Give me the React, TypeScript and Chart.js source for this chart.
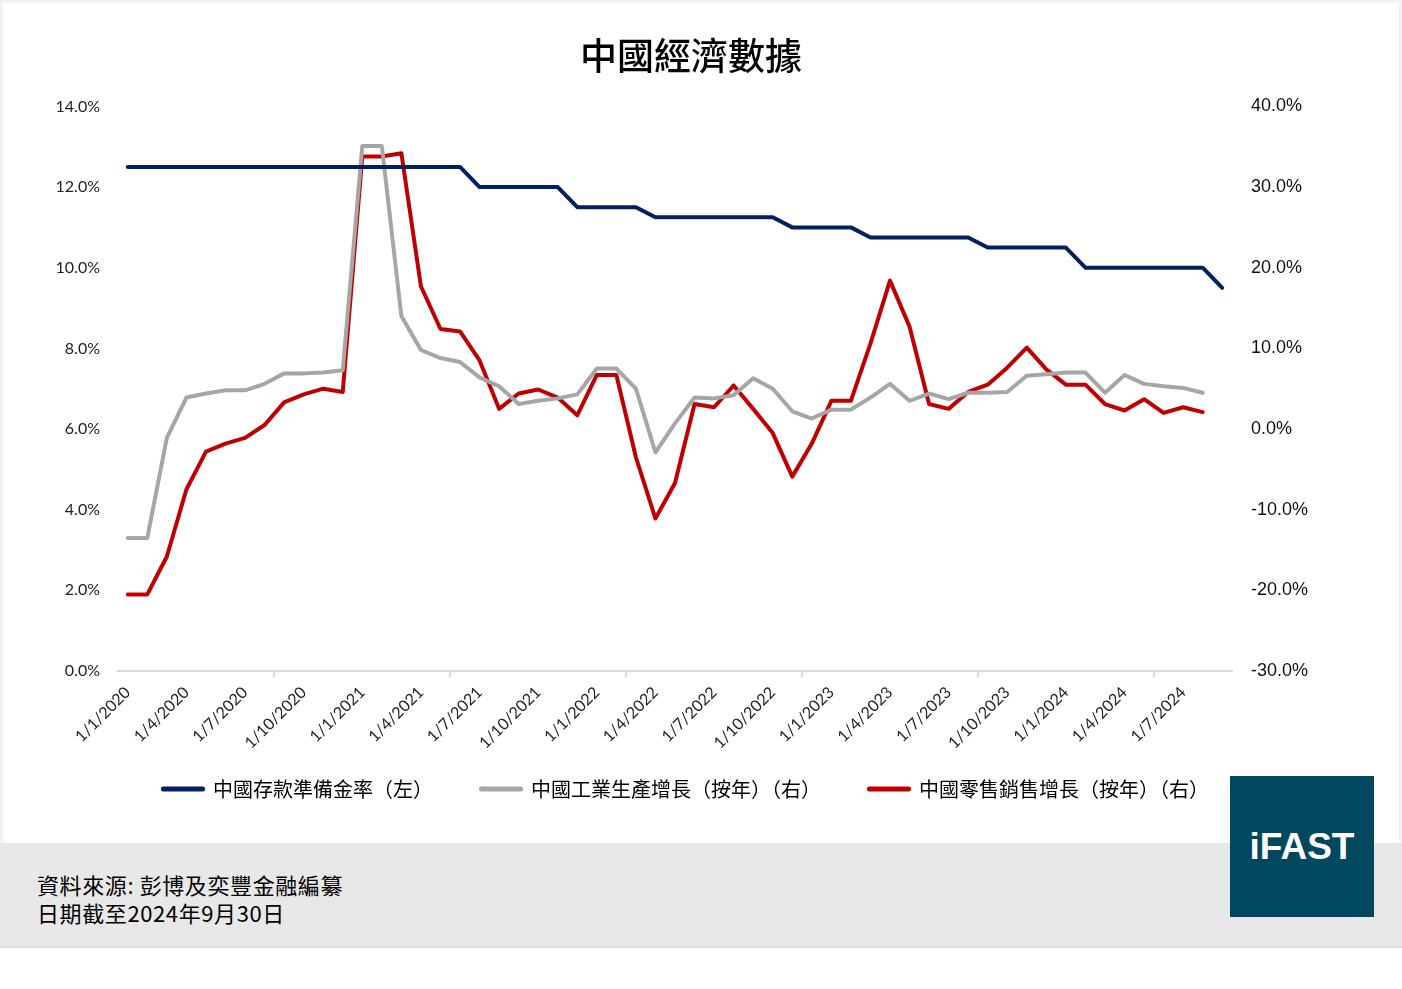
import { useEffect, useRef } from "react";
import Chart from "chart.js/auto";

const months: string[] = [
  "1/1/2020", "1/2/2020", "1/3/2020", "1/4/2020", "1/5/2020", "1/6/2020",
  "1/7/2020", "1/8/2020", "1/9/2020", "1/10/2020", "1/11/2020", "1/12/2020",
  "1/1/2021", "1/2/2021", "1/3/2021", "1/4/2021", "1/5/2021", "1/6/2021",
  "1/7/2021", "1/8/2021", "1/9/2021", "1/10/2021", "1/11/2021", "1/12/2021",
  "1/1/2022", "1/2/2022", "1/3/2022", "1/4/2022", "1/5/2022", "1/6/2022",
  "1/7/2022", "1/8/2022", "1/9/2022", "1/10/2022", "1/11/2022", "1/12/2022",
  "1/1/2023", "1/2/2023", "1/3/2023", "1/4/2023", "1/5/2023", "1/6/2023",
  "1/7/2023", "1/8/2023", "1/9/2023", "1/10/2023", "1/11/2023", "1/12/2023",
  "1/1/2024", "1/2/2024", "1/3/2024", "1/4/2024", "1/5/2024", "1/6/2024",
  "1/7/2024", "1/8/2024", "1/9/2024",
];

// 中國存款準備金率 (left axis, %)
const reserveRatio: number[] = [
  12.5, 12.5, 12.5, 12.5, 12.5, 12.5, 12.5, 12.5, 12.5, 12.5, 12.5, 12.5,
  12.5, 12.5, 12.5, 12.5, 12.5, 12.5, 12.0, 12.0, 12.0, 12.0, 12.0, 11.5,
  11.5, 11.5, 11.5, 11.25, 11.25, 11.25, 11.25, 11.25, 11.25, 11.25, 11.0, 11.0,
  11.0, 11.0, 10.75, 10.75, 10.75, 10.75, 10.75, 10.75, 10.5, 10.5, 10.5, 10.5,
  10.5, 10.0, 10.0, 10.0, 10.0, 10.0, 10.0, 10.0, 9.5,
];

// 中國工業生產增長 (按年, right axis, %)
const industrialGrowth: (number | null)[] = [
  -13.5, -13.5, -1.1, 3.9, 4.4, 4.8, 4.8, 5.6, 6.9, 6.9, 7.0, 7.3,
  35.1, 35.1, 14.0, 9.8, 8.8, 8.3, 6.4, 5.3, 3.1, 3.5, 3.8, 4.3,
  7.5, 7.5, 5.0, -2.9, 0.7, 3.9, 3.8, 4.2, 6.3, 5.0, 2.2, 1.3,
  2.4, 2.4, 3.9, 5.6, 3.5, 4.4, 3.7, 4.5, 4.5, 4.6, 6.6, 6.8,
  7.0, 7.0, 4.5, 6.7, 5.6, 5.3, 5.1, 4.5, null,
];

// 中國零售銷售增長 (按年, right axis, %)
const retailGrowth: (number | null)[] = [
  -20.5, -20.5, -15.8, -7.5, -2.8, -1.8, -1.1, 0.5, 3.3, 4.3, 5.0, 4.6,
  33.8, 33.8, 34.2, 17.7, 12.4, 12.1, 8.5, 2.5, 4.4, 4.9, 3.9, 1.7,
  6.7, 6.7, -3.5, -11.1, -6.7, 3.1, 2.7, 5.4, 2.5, -0.5, -5.9, -1.8,
  3.5, 3.5, 10.6, 18.4, 12.7, 3.1, 2.5, 4.6, 5.5, 7.6, 10.1, 7.4,
  5.5, 5.5, 3.1, 2.3, 3.7, 2.0, 2.7, 2.1, null,
];

const seriesNames = [
  "中國存款準備金率（左）",
  "中國工業生產增長（按年）（右）",
  "中國零售銷售增長（按年）（右）",
];

const NAVY = "#002060";
const GREY = "#a6a6a6";
const RED = "#c00000";
const AXIS = "#d9d9d9";

// legend padding is shared by the vertical and horizontal spacing, so the
// wider gap between entries is made with ideographic spaces
const LEGEND_GAP = "\u3000\u3000";

function EconChart() {
  const canvasRef = useRef<HTMLCanvasElement | null>(null);

  useEffect(() => {
    if (!canvasRef.current) return;

    const line = (label: string, data: (number | null)[], color: string, axis: string) => ({
      label,
      data,
      yAxisID: axis,
      borderColor: color,
      backgroundColor: color,
      borderWidth: 4,
      pointRadius: 0,
      tension: 0,
      borderCapStyle: "round" as const,
      borderJoinStyle: "round" as const,
    });

    const chart = new Chart(canvasRef.current, {
      type: "line",
      data: {
        labels: months,
        datasets: [
          line(seriesNames[0] + LEGEND_GAP, reserveRatio, NAVY, "y"),
          line(seriesNames[1] + LEGEND_GAP, industrialGrowth, GREY, "y1"),
          line(seriesNames[2] + "\u3000", retailGrowth, RED, "y1"),
        ],
      },
      options: {
        animation: false,
        responsive: false,
        maintainAspectRatio: false,
        layout: { padding: { left: 0, right: 20, top: 0, bottom: 0 } },
        plugins: {
          title: {
            display: true,
            text: "中國經濟數據",
            color: "#000",
            font: { family: "'Noto Sans CJK TC', sans-serif", size: 37, weight: 500 },
            padding: { top: 34, bottom: 28 },
          },
          legend: {
            position: "bottom",
            labels: {
              boxWidth: 40,
              boxHeight: 1,
              padding: 18,
              color: "#000",
              font: { family: "'Noto Sans CJK TC', sans-serif", size: 20 },
            },
          },
          tooltip: { enabled: false },
        },
        scales: {
          x: {
            type: "category",
            offset: true,
            grid: {
              offset: true,
              drawOnChartArea: false,
              drawTicks: true,
              tickLength: 6,
              lineWidth: 2,
              color: (ctx: any) => (ctx.index % 3 === 0 ? AXIS : "rgba(0,0,0,0)"),
            },
            border: { display: true, color: AXIS, width: 2 },
            ticks: {
              autoSkip: false,
              minRotation: 45,
              maxRotation: 45,
              padding: 6,
              color: "#222",
              font: { family: "Lato, 'Liberation Sans', sans-serif", size: 16 },
              callback: (_v: any, i: number) => (i % 3 === 0 ? months[i] : null),
            },
            afterFit: (s: any) => {
              s.height = 90;
            },
          },
          y: {
            position: "left",
            min: 0,
            max: 14,
            grid: { display: false, drawTicks: false },
            border: { display: false },
            ticks: {
              stepSize: 2,
              padding: 18,
              color: "#222",
              font: { family: "Lato, 'Liberation Sans', sans-serif", size: 16 },
              callback: (v: any) => Number(v).toFixed(1) + "%",
            },
            afterFit: (s: any) => {
              s.width = 118;
            },
          },
          y1: {
            position: "right",
            min: -30,
            max: 40,
            grid: { display: false, drawTicks: false },
            border: { display: false },
            ticks: {
              stepSize: 10,
              padding: 19,
              color: "#111",
              font: { family: "'Liberation Sans', Arial, sans-serif", size: 18 },
              callback: (v: any) => Number(v).toFixed(1) + "%",
            },
            afterFit: (s: any) => {
              s.width = 150;
            },
          },
        },
      },
    });

    return () => chart.destroy();
  }, []);

  return (
    <canvas
      ref={canvasRef}
      width={1402}
      height={809}
      style={{ position: "absolute", left: 0, top: 0, width: 1402, height: 809 }}
    />
  );
}

export default function App() {
  return (
    <div
      style={{
        position: "absolute",
        left: 0,
        top: 0,
        width: 1402,
        height: 989,
        background: "#fff",
        overflow: "hidden",
      }}
    >
      <div
        style={{
          position: "absolute",
          left: 0,
          top: 0,
          width: 1402,
          height: 948,
          boxSizing: "border-box",
          borderTop: "3px solid #f2f2f2",
          borderLeft: "3px solid #f2f2f2",
          borderRight: "3px solid #f2f2f2",
        }}
      />
      <div
        style={{
          position: "absolute",
          left: 0,
          top: 843,
          width: 1402,
          height: 105,
          background: "#e8e8e8",
          borderBottom: "2px solid #dedede",
          boxSizing: "border-box",
        }}
      >
        <div
          style={{
            position: "absolute",
            left: 37,
            top: 27,
            fontFamily: "'Noto Sans CJK TC', 'Liberation Sans', sans-serif",
            fontSize: 22,
            letterSpacing: 0.6,
            lineHeight: "28px",
            color: "#000",
          }}
        >
          <div>資料來源: 彭博及奕豐金融編纂</div>
          <div>日期截至2024年9月30日</div>
        </div>
      </div>
      <EconChart />
      <div
        style={{
          position: "absolute",
          left: 1230,
          top: 776,
          width: 144,
          height: 141,
          background: "#00475f",
          display: "flex",
          alignItems: "center",
          justifyContent: "center",
          color: "#fff",
          fontFamily: "'Liberation Sans', Arial, sans-serif",
          fontWeight: 700,
          fontSize: 37,
        }}
      >
        iFAST
      </div>
    </div>
  );
}
